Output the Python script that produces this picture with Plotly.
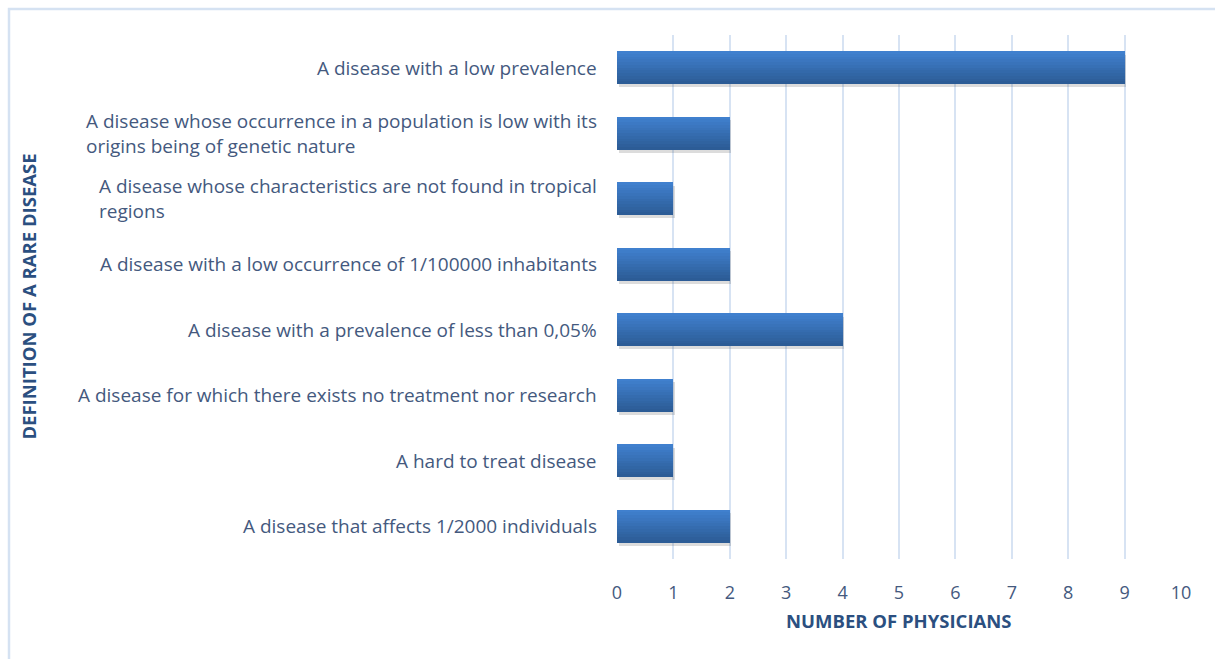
import plotly.graph_objects as go

# Survey answers, listed top to bottom
definitions = [
    "A disease with a low prevalence",
    "A disease whose occurrence in a population is low with its<br>origins being of genetic nature",
    "A disease whose characteristics are not found in tropical<br>regions",
    "A disease with a low occurrence of 1/100000 inhabitants",
    "A disease with a prevalence of less than 0,05%",
    "A disease for which there exists no treatment nor research",
    "A hard to treat disease",
    "A disease that affects 1/2000 individuals",
]
physicians = [9, 2, 1, 2, 4, 1, 1, 2]
x_ticks = list(range(0, 11))

# bottom-to-top order on the category axis
cats = definitions[::-1]
vals = physicians[::-1]
keys = [f"c{i}" for i in range(len(cats))]

LABEL_COLOR = "#44597e"
TITLE_COLOR = "#2b4f80"
GRID_COLOR = "#d7e3f3"
FONT = "Open Sans, Carlito, Liberation Sans, sans-serif"

fig = go.Figure()

bar_w = 0.5

# soft drop shadow under each bar
fig.add_trace(go.Bar(
    y=keys, x=vals, base=0.03, orientation="h",
    width=bar_w, offset=-bar_w / 2 - 0.05,
    marker=dict(color="rgba(60,60,60,0.18)", line=dict(width=0)),
    hoverinfo="skip", showlegend=False,
))

# vertical gradient built from thin horizontal slices (light on top, dark below)
top_rgb = (64, 128, 206)
bot_rgb = (44, 92, 150)
n = 12
slice_w = bar_w / n
for i in range(n):
    t = i / (n - 1)
    r = round(top_rgb[0] + (bot_rgb[0] - top_rgb[0]) * t)
    g = round(top_rgb[1] + (bot_rgb[1] - top_rgb[1]) * t)
    b = round(top_rgb[2] + (bot_rgb[2] - top_rgb[2]) * t)
    fig.add_trace(go.Bar(
        y=keys, x=vals, orientation="h",
        width=slice_w * 1.05, offset=bar_w / 2 - (i + 1) * slice_w,
        marker=dict(color=f"rgb({r},{g},{b})", line=dict(width=0)),
        hovertemplate="%{x}<extra></extra>", showlegend=False,
    ))

# category labels, left-aligned blocks ending just before the axis
annotations = []
for k, label in zip(keys, cats):
    annotations.append(dict(
        x=0, y=k, xref="x", yref="y", text=label, showarrow=False,
        xanchor="right", yanchor="middle", align="left", xshift=-18,
        font=dict(family=FONT, size=19, color=LABEL_COLOR),
    ))

annotations.append(dict(
    x=-1.045, y=0.5, xref="paper", yref="paper", text="<b>DEFINITION OF A RARE DISEASE</b>",
    showarrow=False, textangle=-90, xanchor="center", yanchor="middle",
    font=dict(family=FONT, size=18.5, color=TITLE_COLOR),
))
annotations.append(dict(
    x=0.5, y=-0.117, xref="paper", yref="paper", text="<b>NUMBER OF PHYSICIANS</b>",
    showarrow=False, xanchor="center", yanchor="middle",
    font=dict(family=FONT, size=18.5, color=TITLE_COLOR),
))

fig.update_layout(
    width=1215, height=659,
    margin=dict(l=617, r=34, t=35, b=100),
    paper_bgcolor="white", plot_bgcolor="white",
    barmode="overlay", bargap=0,
    annotations=annotations,
    shapes=[dict(
        type="rect", xref="paper", yref="paper",
        x0=(9 - 617) / 564, x1=(1240 - 617) / 564,
        y0=(559 - 690) / 524, y1=(559 - 9) / 524,
        line=dict(color="#d5e2f2", width=2.5), fillcolor="rgba(0,0,0,0)", layer="below",
    )],
    xaxis=dict(
        range=[0, 10], tickvals=x_ticks, showgrid=True, gridcolor=GRID_COLOR, gridwidth=2,
        zeroline=False, showline=False, ticks="outside", ticklen=17,
        tickcolor="rgba(0,0,0,0)",
        tickfont=dict(family=FONT, size=18, color=LABEL_COLOR),
        fixedrange=True,
    ),
    yaxis=dict(
        categoryorder="array", categoryarray=keys, range=[-0.5, len(keys) - 0.5],
        showticklabels=False, showgrid=False, zeroline=False, showline=False,
        fixedrange=True,
    ),
    hovermode="closest",
)

fig.write_html("out.html")
